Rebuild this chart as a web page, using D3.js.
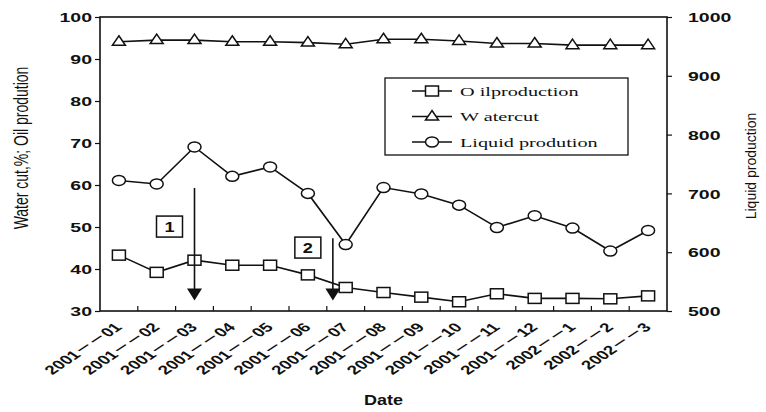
<!DOCTYPE html>
<html>
<head>
<meta charset="utf-8">
<script src="https://cdn.jsdelivr.net/npm/d3@7"></script>
<style>
  body { margin: 0; background: #fff; }
  svg { display: block; }
</style>
</head>
<body>
<svg id="chart" width="766" height="412"></svg>
<script>
// Monthly dates on the horizontal axis
const categories = ["2001－－01", "2001－－02", "2001－－03", "2001－－04", "2001－－05",
  "2001－－06", "2001－－07", "2001－－08", "2001－－09", "2001－－10", "2001－－11",
  "2001－－12", "2002－－1", "2002－－2", "2002－－3"];

// Left axis series (Water cut %, Oil production)
const oilProduction = [43.3, 39.2, 42.1, 40.9, 40.9, 38.6, 35.6, 34.4, 33.3, 32.2, 34.1, 33.0, 33.0, 32.9, 33.6];
const waterCut = [94.1, 94.5, 94.5, 94.1, 94.1, 93.9, 93.5, 94.7, 94.7, 94.3, 93.7, 93.7, 93.3, 93.3, 93.3];
// Right axis series
const liquidProduction = [722, 716, 779, 729, 745, 700, 613, 710, 699, 680, 642, 662, 641, 602, 637];

const leftTicks = [30, 40, 50, 60, 70, 80, 90, 100];
const rightTicks = [500, 600, 700, 800, 900, 1000];
const seriesNames = ["O ilproduction", "W atercut", "Liquid prodution"];

// Treatment events: position in months from the first date, arrow start and label box (left-axis units)
const events = [
  { label: "1", at: 2, from: 59.3, box: 50.1 },
  { label: "2", at: 5.66, from: 47.3, box: 45.1 }
];
const arrowTip = 32.5;

const L = 100, R = 667, T = 17, B = 311;
const SX = 1.5; // horizontal glyph stretch used for the printed text
const INK = "#111";

const svg = d3.select("#chart");
svg.append("rect").attr("width", 766).attr("height", 412).attr("fill", "#fff");

const x = d3.scaleBand().domain(categories).range([L, R]);
const cx = c => x(c) + x.bandwidth() / 2;
const xAt = p => x(categories[0]) + x.bandwidth() * (p + 0.5);
const yL = d3.scaleLinear().domain([30, 100]).range([B, T]);
const yR = d3.scaleLinear().domain([500, 1000]).range([B, T]);

const numFont = "'Liberation Sans', Arial, sans-serif";

// Plot frame
svg.append("rect")
  .attr("x", L).attr("y", T).attr("width", R - L).attr("height", B - T)
  .attr("fill", "none").attr("stroke", INK).attr("stroke-width", 1.6);

// Left axis
const gl = svg.append("g").attr("transform", `translate(${L},0)`)
  .call(d3.axisLeft(yL).tickValues(leftTicks).tickFormat(d3.format("d")).tickSize(5).tickSizeOuter(0));
gl.select(".domain").remove();
gl.selectAll(".tick line").attr("stroke", INK).attr("stroke-width", 1.2);
gl.selectAll(".tick text")
  .attr("x", null).attr("dy", "0.36em")
  .attr("transform", `translate(-8,0) scale(${SX},1)`)
  .attr("fill", INK)
  .style("font-family", numFont).style("font-size", "13px").style("font-weight", "bold");

// Right axis
const gr = svg.append("g").attr("transform", `translate(${R},0)`)
  .call(d3.axisRight(yR).tickValues(rightTicks).tickFormat(d3.format("d")).tickSize(5).tickSizeOuter(0));
gr.select(".domain").remove();
gr.selectAll(".tick line").attr("stroke", INK).attr("stroke-width", 1.2);
gr.selectAll(".tick text")
  .attr("x", null).attr("dy", "0.36em")
  .attr("transform", `translate(21,0) scale(${SX},1)`)
  .attr("fill", INK)
  .style("font-family", numFont).style("font-size", "13px").style("font-weight", "bold");

// Bottom axis: tick marks between months, labels under each month
const gb = svg.append("g").attr("transform", `translate(0,${B})`)
  .call(d3.axisBottom(x).tickSize(0).tickSizeOuter(0));
gb.select(".domain").remove();
gb.selectAll(".tick text")
  .attr("y", null).attr("dy", null)
  .attr("text-anchor", "end")
  .attr("transform", `translate(4,17) scale(${SX},1) rotate(-45)`)
  .attr("fill", INK)
  .style("font-family", numFont + ", 'Noto Sans CJK SC'")
  .style("font-size", "12.5px").style("font-weight", "bold");
svg.append("g").selectAll("line")
  .data(categories.slice(1))
  .join("line")
  .attr("x1", d => x(d)).attr("x2", d => x(d))
  .attr("y1", B).attr("y2", B - 5)
  .attr("stroke", INK).attr("stroke-width", 1.2);

// Axis titles
svg.append("text")
  .attr("transform", `translate(28,148) scale(${SX},1) rotate(-90)`)
  .attr("text-anchor", "middle").attr("fill", INK)
  .style("font-family", numFont).style("font-size", "14px")
  .text("Water cut,%;  Oil prodution");
svg.append("text")
  .attr("transform", `translate(756,166) scale(1.1,1) rotate(-90)`)
  .attr("text-anchor", "middle").attr("fill", INK)
  .style("font-family", numFont).style("font-size", "14px")
  .text("Liquid production");
svg.append("text")
  .attr("transform", `translate(${(L + R) / 2},405) scale(1.2,1)`)
  .attr("text-anchor", "middle").attr("fill", INK)
  .style("font-family", numFont).style("font-size", "15px").style("font-weight", "bold")
  .text("Date");

// Marker shapes
const markers = {
  square: g => g.append("rect").attr("x", -6.5).attr("y", -5).attr("width", 13).attr("height", 10),
  triangle: g => g.append("path").attr("d", "M0,-6L6.5,3.5L-6.5,3.5Z"),
  circle: g => g.append("ellipse").attr("rx", 6.5).attr("ry", 5)
};

const series = [
  { values: oilProduction, y: yL, marker: "square" },
  { values: waterCut, y: yL, marker: "triangle" },
  { values: liquidProduction, y: yR, marker: "circle" }
];

series.forEach(s => {
  const line = d3.line().x((d, i) => cx(categories[i])).y(d => s.y(d));
  svg.append("path").datum(s.values)
    .attr("d", line).attr("fill", "none")
    .attr("stroke", INK).attr("stroke-width", 1.6);
  svg.append("g").selectAll("g")
    .data(s.values)
    .join("g")
    .attr("transform", (d, i) => `translate(${cx(categories[i])},${s.y(d)})`)
    .each(function () {
      markers[s.marker](d3.select(this))
        .attr("fill", "#fff").attr("stroke", INK).attr("stroke-width", 1.5);
    });
});

// Event arrows and numbered boxes
events.forEach(e => {
  const ax = xAt(e.at);
  const tip = yL(arrowTip);
  svg.append("line")
    .attr("x1", ax).attr("x2", ax)
    .attr("y1", yL(e.from)).attr("y2", tip - 8)
    .attr("stroke", INK).attr("stroke-width", 1.6);
  svg.append("path")
    .attr("d", `M${ax},${tip}L${ax + 7.5},${tip - 12}L${ax - 7.5},${tip - 12}Z`)
    .attr("fill", INK);
  const bx = ax - 25, by = yL(e.box);
  svg.append("rect")
    .attr("x", bx - 13).attr("y", by - 10.5).attr("width", 26).attr("height", 21)
    .attr("fill", "#fff").attr("stroke", INK).attr("stroke-width", 1.5);
  svg.append("text")
    .attr("transform", `translate(${bx},${by}) scale(1.3,1)`)
    .attr("text-anchor", "middle").attr("dy", "0.36em").attr("fill", INK)
    .style("font-family", numFont).style("font-size", "14px").style("font-weight", "bold")
    .text(e.label);
});

// Legend
const lg = svg.append("g");
lg.append("rect")
  .attr("x", 385).attr("y", 78).attr("width", 243).attr("height", 77)
  .attr("fill", "#fff").attr("stroke", INK).attr("stroke-width", 1.3);
series.forEach((s, i) => {
  const yy = 91 + i * 25.5;
  lg.append("line")
    .attr("x1", 412).attr("x2", 452).attr("y1", yy).attr("y2", yy)
    .attr("stroke", INK).attr("stroke-width", 1.6);
  markers[s.marker](lg.append("g").attr("transform", `translate(432,${yy})`))
    .attr("fill", "#fff").attr("stroke", INK).attr("stroke-width", 1.5);
  lg.append("text")
    .attr("transform", `translate(460,${yy}) scale(${SX},1)`)
    .attr("dy", "0.35em").attr("fill", INK)
    .style("font-family", "'Liberation Serif', 'Times New Roman', serif")
    .style("font-size", "13.5px")
    .text(seriesNames[i]);
});
</script>
</body>
</html>
